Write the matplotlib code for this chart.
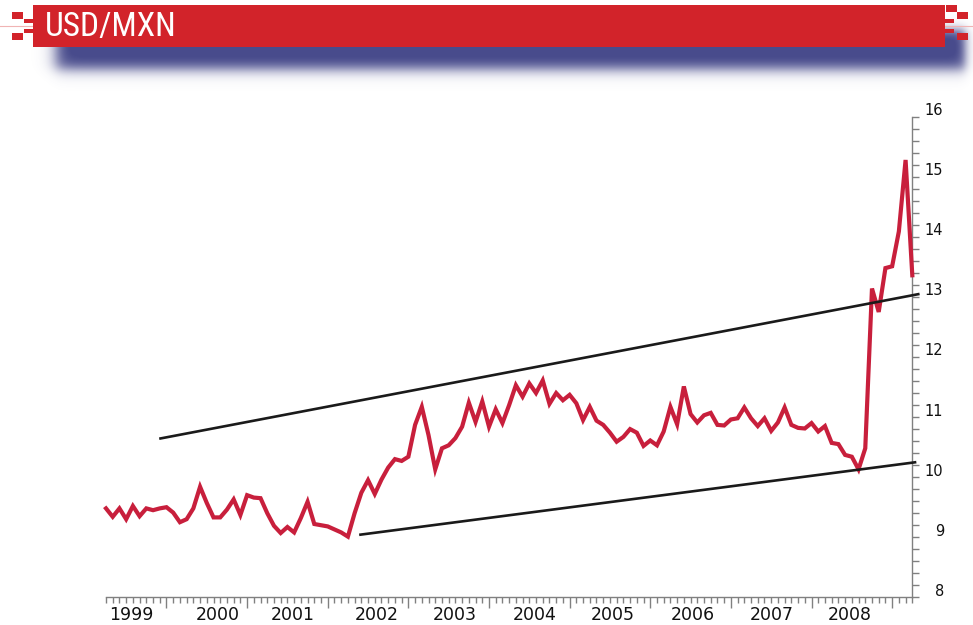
import numpy as np
import pandas as pd
import matplotlib
matplotlib.use("Agg")
import matplotlib.pyplot as plt
from matplotlib.patches import Rectangle
from matplotlib import font_manager as fm

# ---------------- data ----------------
title = "USD/MXN"
first_month = "1999-04-01"          # monthly observations, Apr 1999 .. Apr 2009
usd_mxn = [
    9.48, 9.34, 9.48, 9.30, 9.52, 9.35, 9.48, 9.45, 9.48, 9.50,
    9.41, 9.25, 9.30, 9.48, 9.84, 9.57, 9.33, 9.33, 9.46, 9.63,
    9.37, 9.70, 9.66, 9.65, 9.40, 9.19, 9.07, 9.17, 9.08, 9.32,
    9.59, 9.22, 9.20, 9.18, 9.13, 9.08, 9.01, 9.40, 9.74, 9.95,
    9.72, 9.96, 10.16, 10.30,
    10.27, 10.34, 10.87, 11.17, 10.70, 10.13, 10.48, 10.53, 10.65, 10.84,
    11.24, 10.92, 11.26, 10.84, 11.13, 10.90, 11.20, 11.53, 11.34, 11.56,
    11.40, 11.61, 11.22, 11.40, 11.28, 11.37, 11.23, 10.95, 11.17, 10.94,
    10.87, 10.74, 10.59, 10.67, 10.80, 10.74, 10.52, 10.61, 10.53, 10.76,
    11.17, 10.88,
    11.51, 11.05, 10.91, 11.03, 11.07, 10.87, 10.86, 10.96, 10.98, 11.16,
    10.98, 10.85, 10.98, 10.77, 10.91, 11.16, 10.87, 10.82, 10.81, 10.90,
    10.76, 10.85, 10.57, 10.55, 10.37, 10.34, 10.13, 10.48,
    13.14, 12.75, 13.48, 13.51, 14.09, 15.28, 13.36,
]
year_labels = ["1999", "2000", "2001", "2002", "2003", "2004",
               "2005", "2006", "2007", "2008"]
year_label_pos = [1999.56, 2000.64, 2001.57, 2002.61, 2003.58, 2004.57,
                  2005.54, 2006.53, 2007.51, 2008.48]
y_tick_values = [8, 9, 10, 11, 12, 13, 14, 15, 16]
upper_trend_x = [1999.91, 2009.34]
upper_trend_y = [10.64, 13.05]
lower_trend_x = [2002.39, 2009.30]
lower_trend_y = [9.04, 10.25]

# ---------------- styles ----------------
RED_LINE = "#c81f3c"
BANNER_RED = "#d2232a"
SHADOW = np.array([72, 75, 140]) / 255.0
AXIS_GRAY = "#808080"


def pick_condensed_font():
    """Find an installed narrow / condensed sans face for the banner title."""
    prefs = ["Liberation Sans Narrow", "Roboto Condensed", "Open Sans Condensed",
             "Noto Sans Condensed", "DejaVu Sans Condensed", "Arial Narrow"]
    narrow = []
    for f in fm.fontManager.ttflist:
        st = str(f.stretch).lower()
        nm = f.name
        fn = f.fname.lower()
        if (st in ("condensed", "semi-condensed", "extra-condensed")
                or "narrow" in nm.lower() or "condensed" in nm.lower()
                or "condensed" in fn or "narrow" in fn):
            if "italic" in fn or "oblique" in fn or str(f.style) != "normal":
                continue
            narrow.append(f)
    if not narrow:
        return None
    def score(f):
        fn = f.fname.lower()
        rank = len(prefs)
        for i, p in enumerate(prefs):
            if p.lower().replace(" ", "") in (f.name + fn).lower().replace(" ", "").replace("-", ""):
                rank = i
                break
        w = f.weight if isinstance(f.weight, int) else 400
        bold_pen = 0 if ("bold" not in fn and "light" not in fn and "thin" not in fn) else 1
        return (bold_pen, rank, abs(w - 450))
    narrow.sort(key=score)
    return fm.FontProperties(fname=narrow[0].fname)


dates = pd.date_range(first_month, periods=len(usd_mxn), freq="MS")
t = dates.year + (dates.month - 1) / 12.0

fig = plt.figure(figsize=(9.73, 6.25), dpi=100)
fig.patch.set_facecolor("white")

# ---- decoration layer in pixel coordinates ----
bg = fig.add_axes([0, 0, 1, 1], zorder=0)
bg.set_xlim(0, 973)
bg.set_ylim(625, 0)
bg.axis("off")

# blurred blue shadow under the banner
xs = np.arange(30, 973) + 0.5
ys = np.arange(10, 95) + 0.5
sig = lambda z: 1.0 / (1.0 + np.exp(-z))
fx = sig((xs - 56) / 4.5) * sig((965 - xs) / 3.0)
fy = sig((ys - 30) / 3.0) * sig((69 - ys) / 4.0)
alpha = np.outer(fy, fx)
img = np.zeros((len(ys), len(xs), 4))
img[..., :3] = SHADOW
img[..., 3] = np.clip(alpha * 1.05, 0, 1)
bg.imshow(img, extent=(30, 973, 95, 10), origin="upper", aspect="auto",
          interpolation="bilinear", zorder=1)

# thin pink guide line
bg.plot([0, 34], [26, 26], color="#f0b4b4", lw=0.8, zorder=1)
bg.plot([945, 973], [26, 26], color="#f0b4b4", lw=0.8, zorder=1)

# red banner
bg.add_patch(Rectangle((33, 5), 912, 42, facecolor=BANNER_RED,
                       edgecolor="none", zorder=2))
# pixel squares
for (x0, y0, w, h) in [(12, 12, 11, 7), (12, 33, 11, 7), (24, 19, 9, 4),
                       (24, 29, 9, 4), (946, 5, 11, 7), (957, 12, 11, 7),
                       (957, 33, 11, 7), (945, 19, 9, 4), (945, 29, 9, 4)]:
    bg.add_patch(Rectangle((x0, y0), w, h, facecolor=BANNER_RED,
                           edgecolor="none", zorder=2))

cfont = pick_condensed_font()
if cfont is not None:
    cfont.set_size(24)
    bg.text(45, 27, title, color="white", fontproperties=cfont,
            va="center", ha="left", zorder=3)
else:
    bg.text(45, 27, title, color="white", fontsize=19, va="center", ha="left",
            family="DejaVu Sans", zorder=3)

# ---------------- chart ----------------
left, right = 106 / 973, 912.3 / 973
bottom, top = 1 - 597.3 / 625, 1 - 116.7 / 625
ax = fig.add_axes([left, bottom, right - left, top - bottom], zorder=1)
ax.set_facecolor("none")

ax.plot(t, usd_mxn, color=RED_LINE, lw=3.0, solid_joinstyle="miter",
        zorder=3, clip_on=False)
ax.plot(upper_trend_x, upper_trend_y, color="#1a1a1a", lw=1.9, zorder=4,
        clip_on=False, solid_capstyle="butt")
ax.plot(lower_trend_x, lower_trend_y, color="#1a1a1a", lw=1.9, zorder=4,
        clip_on=False, solid_capstyle="butt")

ax.set_xlim(1999.25, 2009.25)
ax.set_ylim(min(y_tick_values), max(y_tick_values))

for s in ("left", "top"):
    ax.spines[s].set_visible(False)
for s in ("right", "bottom"):
    ax.spines[s].set_color(AXIS_GRAY)
    ax.spines[s].set_linewidth(1.0)

# x ticks: years (major) and months (minor)
year_bounds = [int(y) + 1 for y in year_labels]
ax.set_xticks(year_bounds)
ax.set_xticks(np.arange(1999.25, 2009.26, 1 / 12.0), minor=True)
ax.tick_params(axis="x", which="major", length=8, width=1, color=AXIS_GRAY,
               direction="out", labelbottom=False)
ax.tick_params(axis="x", which="minor", length=4, width=1, color=AXIS_GRAY,
               direction="out")

# y ticks on the right
ax.yaxis.tick_right()
ax.set_yticks(y_tick_values)
ax.set_yticks(np.arange(8, 16.01, 0.2), minor=True)
ax.tick_params(axis="y", which="both", length=5, width=1, color=AXIS_GRAY,
               direction="out", labelright=False, labelleft=False)

# y labels (slightly above their ticks as in the original)
ytr = ax.get_yaxis_transform()
for v in y_tick_values:
    s = str(v)
    xpos = 1.0 + ((924 if len(s) > 1 else 935) - 912.3) / 806.3
    ax.text(xpos, v + 0.1, s, transform=ytr, ha="left", va="center",
            fontsize=10.5, color="#111111", family="DejaVu Sans")

# year labels
xtr = ax.get_xaxis_transform()
for lab, pos in zip(year_labels, year_label_pos):
    ax.text(pos, -0.0375, lab, transform=xtr, ha="center",
            va="center", fontsize=12.5, color="#111111", family="DejaVu Sans")

fig.savefig("out.png", dpi=100, facecolor="white")
